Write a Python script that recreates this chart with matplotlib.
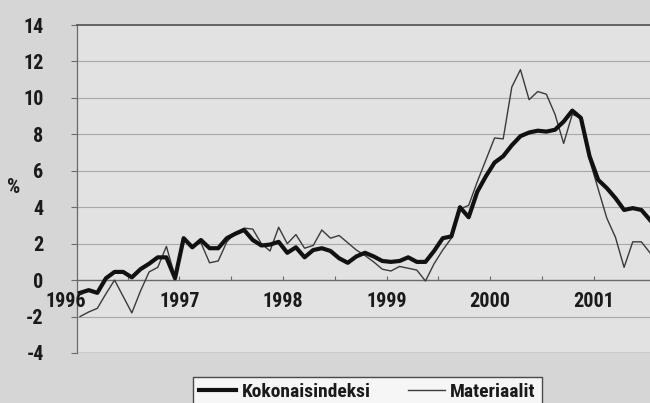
import matplotlib.pyplot as plt
from matplotlib.lines import Line2D

# Kuukausittaiset muutokset, %, tammikuu 1996 -> heinäkuu 2001
kokonaisindeksi = [
    -0.7, -0.55, -0.7, 0.1, 0.45, 0.45, 0.15, 0.6, 0.9, 1.25, 1.25, 0.1,
    2.3, 1.8, 2.2, 1.75, 1.75, 2.3, 2.55, 2.75, 2.2, 1.9, 1.95, 2.1,
    1.5, 1.8, 1.25, 1.65, 1.75, 1.6, 1.2, 0.95, 1.3, 1.5, 1.3, 1.05,
    1.0, 1.05, 1.25, 1.0, 1.0, 1.6, 2.3, 2.4, 4.0, 3.45, 4.85, 5.7,
    6.45, 6.8, 7.4, 7.9, 8.1, 8.2, 8.15, 8.25, 8.7, 9.3, 8.9, 6.8,
    5.5, 5.05, 4.5, 3.85, 3.95, 3.85, 3.3,
]
materiaalit = [
    -2.0, -1.75, -1.55, -0.75, 0.0, -0.9, -1.8, -0.6, 0.45, 0.7, 1.85, 0.2,
    2.25, 1.9, 2.05, 0.95, 1.05, 2.1, 2.6, 2.85, 2.8, 2.0, 1.6, 2.9,
    2.0, 2.5, 1.75, 1.9, 2.75, 2.3, 2.45, 2.05, 1.65, 1.35, 1.0, 0.6,
    0.5, 0.75, 0.65, 0.55, -0.05, 0.9, 1.65, 2.3, 3.9, 4.1, 5.4, 6.6,
    7.8, 7.75, 10.6, 11.55, 9.9, 10.35, 10.2, 9.1, 7.5, 9.1, 8.9, 6.6,
    5.0, 3.4, 2.35, 0.7, 2.1, 2.1, 1.5,
]
vuodet = ['1996', '1997', '1998', '1999', '2000', '2001']
y_ticks = [-4, -2, 0, 2, 4, 6, 8, 10, 12, 14]

# kapea lihavoitu fontti jos löytyy, muuten Roboto
plt.rcParams['font.family'] = ['Roboto Condensed', 'Liberation Sans Narrow',
                               'Roboto', 'DejaVu Sans']
plt.rcParams['font.weight'] = 'bold'

fig = plt.figure(figsize=(6.5, 4.03), dpi=100, facecolor='#d6d6d6')
ax = fig.add_axes([77 / 650, 1 - 353 / 403, 1 - 77 / 650, 328 / 403])
ax.set_facecolor('#e2e2e2')

x = list(range(len(kokonaisindeksi)))
ax.plot(x, materiaalit, color='#3a3a3a', lw=1.0, zorder=3)
ax.plot(x, kokonaisindeksi, color='#111111', lw=3.0, zorder=4,
        solid_joinstyle='round')

ax.set_xlim(-0.35, 66)
ax.set_ylim(-4, 14)

# vaakaviivat
for v in y_ticks:
    if v in (0, 14):
        continue
    ax.axhline(v, color='#a8a8a8', lw=0.8, zorder=1)
ax.axhline(-4, color='#7a7a7a', lw=1.0, zorder=1)

ax.spines['top'].set_color('#5a5a5a')
ax.spines['top'].set_linewidth(1.3)
ax.spines['right'].set_visible(False)
ax.spines['left'].set_color('#6a6a6a')
ax.spines['left'].set_linewidth(0.9)
ax.spines['bottom'].set_position(('data', 0))
ax.spines['bottom'].set_color('#6a6a6a')
ax.spines['bottom'].set_linewidth(1.0)

ax.set_yticks(y_ticks)
ax.set_yticklabels([str(v) for v in y_ticks])
ax.tick_params(axis='y', direction='out', length=4, width=0.8,
               color='#6a6a6a', pad=20, labelsize=14.5, labelcolor='#1a1a1a')

ax.set_xticks([6 * k - 0.5 for k in range(1, 11)])
ax.set_xticklabels([])
ax.tick_params(axis='x', direction='in', length=3, width=0.8,
               color='#6a6a6a')

for i, v in enumerate(vuodet):
    xpos = 12 * i - 0.5 if i > 0 else -1.7
    ax.text(xpos, -1.2, v, ha='center', va='center', fontsize=14.5,
            color='#1a1a1a', clip_on=False, zorder=5)

fig.text(14 / 650, 1 - 188 / 403, '%', ha='center', va='center',
         fontsize=15, color='#1a1a1a')

handles = [Line2D([], [], color='#111111', lw=3.0),
           Line2D([], [], color='#3a3a3a', lw=1.0)]
leg = fig.legend(handles, ['Kokonaisindeksi', 'Materiaalit'],
                 loc='upper left', bbox_to_anchor=(193 / 650, 1 - 377 / 403),
                 ncol=2, fontsize=14, frameon=True, fancybox=False,
                 handlelength=1.9, handletextpad=0.3, columnspacing=1.9,
                 borderpad=0.3, borderaxespad=0)
leg.get_frame().set_edgecolor('#222222')
leg.get_frame().set_facecolor('white')
leg.get_frame().set_linewidth(1.0)
for t in leg.get_texts():
    t.set_color('#1a1a1a')

fig.savefig('out.png', dpi=100, facecolor=fig.get_facecolor())
